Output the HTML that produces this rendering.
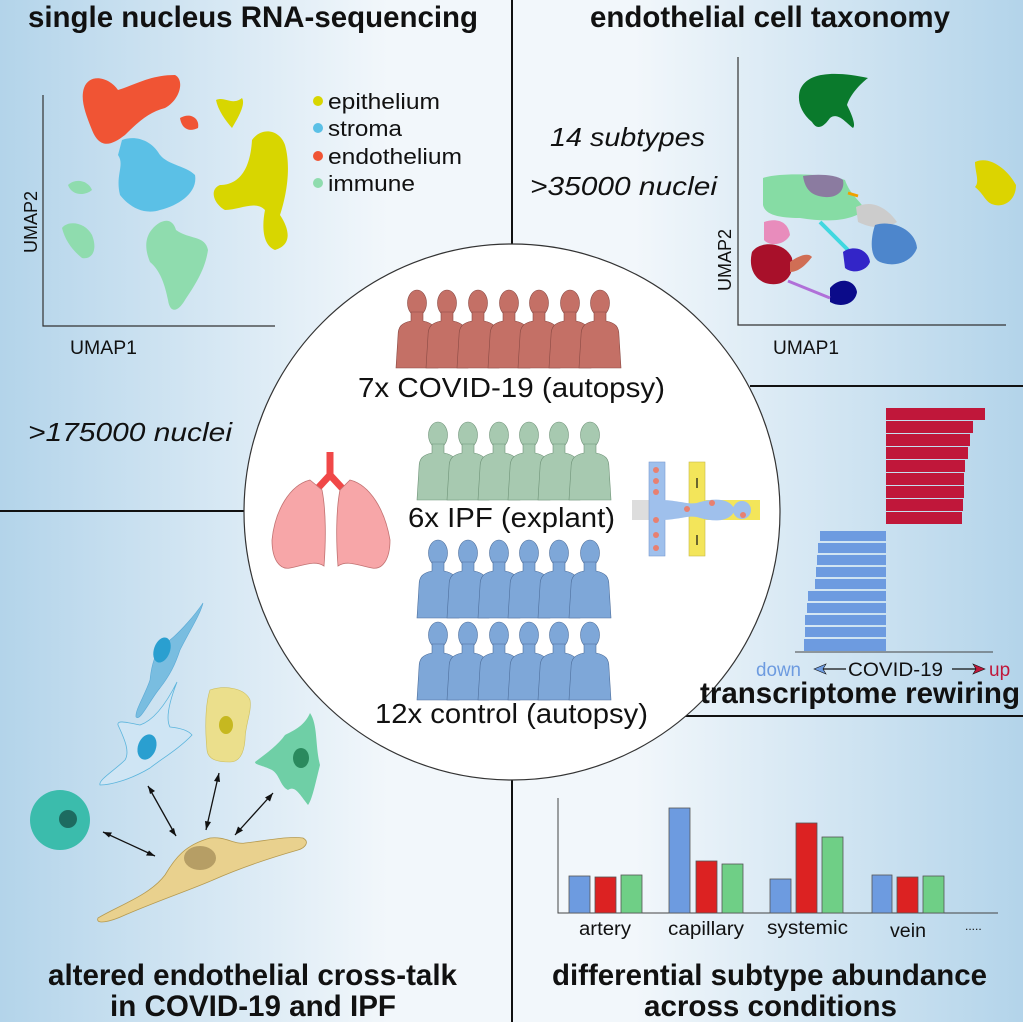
<!DOCTYPE html>
<html><head><meta charset="utf-8"><style>
html,body{margin:0;padding:0}
body{width:1023px;height:1022px;overflow:hidden;font-family:"Liberation Sans",sans-serif}
svg text{font-family:"Liberation Sans",sans-serif}
</style></head><body>
<svg width="1023" height="1022" viewBox="0 0 1023 1022" xmlns="http://www.w3.org/2000/svg">
<defs>
<linearGradient id="bg" x1="0" x2="1" y1="0" y2="0">
<stop offset="0" stop-color="#b3d4ea"/><stop offset="0.38" stop-color="#f2f7fb"/>
<stop offset="0.62" stop-color="#f2f7fb"/><stop offset="1" stop-color="#b3d4ea"/>
</linearGradient>
<g id="p">
<ellipse cx="0" cy="13" rx="9.5" ry="13"/>
<path d="M-6,22 L-6,31 C-16,33 -19,37 -19,46 L-21,78 L21,78 L19,46 C19,37 16,33 6,31 L6,22 Z"/>
</g>
</defs>
<rect width="1023" height="1022" fill="url(#bg)"/>
<g stroke="#111" stroke-width="2">
<line x1="512" y1="0" x2="512" y2="244"/>
<line x1="512" y1="780" x2="512" y2="1022"/>
<line x1="0" y1="511" x2="246" y2="511"/>
<line x1="750" y1="386" x2="1023" y2="386"/>
<line x1="643" y1="716" x2="1023" y2="716"/>
</g>
<circle cx="512" cy="512" r="268" fill="#fff" stroke="#333" stroke-width="1.2"/>

<g font-weight="bold" font-size="30" fill="#111" lengthAdjust="spacingAndGlyphs">
<text x="28" y="27" textLength="450" lengthAdjust="spacingAndGlyphs">single nucleus RNA-sequencing</text>
<text x="590" y="27" textLength="360" lengthAdjust="spacingAndGlyphs">endothelial cell taxonomy</text>
<text x="700" y="703" textLength="320" lengthAdjust="spacingAndGlyphs">transcriptome rewiring</text>
<text x="48" y="985" textLength="409" lengthAdjust="spacingAndGlyphs">altered endothelial cross-talk</text>
<text x="110" y="1016" textLength="286" lengthAdjust="spacingAndGlyphs">in COVID-19 and IPF</text>
<text x="552" y="985" textLength="435" lengthAdjust="spacingAndGlyphs">differential subtype abundance</text>
<text x="644" y="1016" textLength="253" lengthAdjust="spacingAndGlyphs">across conditions</text>
</g>

<g stroke="#333" stroke-width="1.2" fill="none"><polyline points="43,95 43,326 275,326"/></g>
<text x="70" y="354" font-size="19" textLength="67" lengthAdjust="spacingAndGlyphs" fill="#111">UMAP1</text>
<text transform="translate(37,222) rotate(-90)" font-size="18" text-anchor="middle" fill="#111">UMAP2</text>
<path d="M84,88 C90,72 110,78 118,90 C135,85 150,75 175,75 C185,80 180,100 165,108 C150,112 140,120 125,135 C112,145 100,150 92,130 C86,115 80,100 84,88Z" fill="#f05434"/>
<path d="M180,118 C190,112 200,118 198,128 C190,132 182,130 180,118Z" fill="#f05434"/>
<path d="M216,100 C225,96 232,106 242,98 C246,104 238,118 232,128 C225,120 218,110 216,100Z" fill="#d8d600"/>
<path d="M122,140 C135,135 150,140 158,152 C165,165 185,165 195,175 C198,192 180,205 160,210 C145,215 130,208 120,195 C115,175 125,165 118,155 Z" fill="#5bc0e6"/>
<path d="M252,140 C262,126 280,130 285,145 C292,170 285,200 280,215 C290,230 292,245 275,250 C262,245 262,225 265,210 C255,200 240,210 225,210 C215,205 208,190 220,185 C235,185 250,175 252,140Z" fill="#d8d600"/>
<path d="M68,185 C75,178 88,180 92,190 C85,196 72,196 68,185Z" fill="#8fdcae"/>
<path d="M62,228 C68,220 85,222 92,235 C98,250 92,260 82,258 C72,250 65,240 62,228Z" fill="#8fdcae"/>
<path d="M150,232 C158,220 172,215 176,230 C190,240 205,235 208,250 C205,270 195,285 185,300 C178,312 170,314 168,300 C165,285 160,270 150,262 C145,250 145,240 150,232Z" fill="#8fdcae"/>
<g font-size="22" fill="#111">
<circle cx="318" cy="101" r="5" fill="#d8d600"/><text x="328" y="109" textLength="112" lengthAdjust="spacingAndGlyphs">epithelium</text>
<circle cx="318" cy="128" r="5" fill="#5bc0e6"/><text x="328" y="136" textLength="74" lengthAdjust="spacingAndGlyphs">stroma</text>
<circle cx="318" cy="156" r="5" fill="#f05434"/><text x="328" y="164" textLength="134" lengthAdjust="spacingAndGlyphs">endothelium</text>
<circle cx="318" cy="183" r="5" fill="#8fdcae"/><text x="328" y="191" textLength="87" lengthAdjust="spacingAndGlyphs">immune</text>
</g>
<g font-size="26" font-style="italic" fill="#111">
<text x="550" y="146" textLength="155" lengthAdjust="spacingAndGlyphs">14 subtypes</text>
<text x="530" y="195" textLength="187" lengthAdjust="spacingAndGlyphs">&gt;35000 nuclei</text>
<text x="28" y="441" textLength="204" lengthAdjust="spacingAndGlyphs">&gt;175000 nuclei</text>
</g>

<polyline points="738,57 738,325 1006,325" stroke="#333" stroke-width="1.2" fill="none"/>
<text x="773" y="354" font-size="19" textLength="66" lengthAdjust="spacingAndGlyphs" fill="#111">UMAP1</text>
<text transform="translate(731,260) rotate(-90)" font-size="18" text-anchor="middle" fill="#111">UMAP2</text>
<path d="M800,90 C808,70 840,72 868,78 C860,84 850,95 847,105 C852,115 856,125 853,128 C845,122 838,112 830,118 C825,125 818,132 812,122 C800,112 797,100 800,90Z" fill="#0a7a2c"/>
<path d="M975,162 C990,155 1008,170 1016,185 C1016,200 1005,207 995,205 C985,203 985,195 975,187 C980,182 975,172 975,162Z" fill="#dcd400"/>
<path d="M763,178 C780,172 830,174 845,180 C850,195 860,200 865,210 C850,222 825,222 800,218 C780,218 765,215 763,205 Z" fill="#86dca4"/>
<path d="M803,176 C815,174 835,174 843,180 C845,190 838,198 825,197 C812,196 805,190 803,176Z" fill="#8b7ba0"/>
<path d="M856,207 C870,200 885,205 897,222 C885,230 870,228 858,222Z" fill="#cccccc"/>
<path d="M875,225 C890,220 915,228 917,248 C912,262 895,268 880,262 C870,258 870,240 875,225Z" fill="#4d86cc"/>
<path d="M764,222 C775,218 788,220 790,235 C785,245 770,247 764,240Z" fill="#e88cbc"/>
<path d="M752,252 C760,240 785,242 792,258 C795,275 785,286 770,284 C755,282 748,268 752,252Z" fill="#a8102a"/>
<path d="M790,262 C798,256 808,252 812,257 C805,266 798,272 790,272Z" fill="#d06e55"/>
<path d="M820,222 L848,250" stroke="#40d8e0" stroke-width="4"/>
<path d="M843,252 C852,245 868,248 870,262 C866,272 852,274 845,268Z" fill="#3325c8"/>
<path d="M830,288 C840,276 855,280 857,292 C855,305 840,308 830,302Z" fill="#0b0b8a"/>
<path d="M788,281 L830,298" stroke="#b070d8" stroke-width="3"/>
<path d="M848,193 L858,196" stroke="#f0a000" stroke-width="3"/>

<g fill="#c47066" stroke="#8a4a44" stroke-width="0.6">
<use href="#p" x="417" y="290"/><use href="#p" x="447" y="290"/><use href="#p" x="478" y="290"/><use href="#p" x="509" y="290"/><use href="#p" x="539" y="290"/><use href="#p" x="570" y="290"/><use href="#p" x="600" y="290"/>
</g>
<g fill="#a7c9b0" stroke="#6f9378" stroke-width="0.6">
<use href="#p" x="438" y="422"/><use href="#p" x="468" y="422"/><use href="#p" x="499" y="422"/><use href="#p" x="529" y="422"/><use href="#p" x="559" y="422"/><use href="#p" x="590" y="422"/>
</g>
<g fill="#7ea7d8" stroke="#4e6f9c" stroke-width="0.6">
<use href="#p" x="438" y="540"/><use href="#p" x="468" y="540"/><use href="#p" x="499" y="540"/><use href="#p" x="529" y="540"/><use href="#p" x="559" y="540"/><use href="#p" x="590" y="540"/>
<use href="#p" x="438" y="622"/><use href="#p" x="468" y="622"/><use href="#p" x="499" y="622"/><use href="#p" x="529" y="622"/><use href="#p" x="559" y="622"/><use href="#p" x="590" y="622"/>
</g>
<g font-size="28" fill="#111">
<text x="358" y="397" textLength="307" lengthAdjust="spacingAndGlyphs">7x COVID-19 (autopsy)</text>
<text x="408" y="527" textLength="207" lengthAdjust="spacingAndGlyphs">6x IPF (explant)</text>
<text x="375" y="723" textLength="273" lengthAdjust="spacingAndGlyphs">12x control (autopsy)</text>
</g>

<path d="M330,452 L330,475 L318,488" stroke="#f04848" stroke-width="7" fill="none"/>
<path d="M330,475 L342,488" stroke="#f04848" stroke-width="7" fill="none"/>
<path d="M310,480 C290,485 275,510 272,540 C272,560 280,570 290,568 C305,565 315,560 324,566 C326,540 326,510 322,490 Z" fill="#f7a6a8" stroke="#c27272" stroke-width="0.8"/>
<path d="M350,480 C370,485 385,510 390,540 C390,560 382,570 372,568 C357,565 347,560 338,566 C336,540 336,510 340,490 Z" fill="#f7a6a8" stroke="#c27272" stroke-width="0.8"/>

<rect x="632" y="500" width="28" height="20" fill="#ddd"/>
<rect x="649" y="462" width="16" height="94" fill="#9fc0ec" stroke="#7b9bd0" stroke-width="0.6"/>
<rect x="689" y="462" width="16" height="94" fill="#f3e55a" stroke="#c9b94a" stroke-width="0.6"/>
<rect x="705" y="500" width="55" height="20" fill="#f3e55a"/>
<path d="M660,500 C680,500 690,506 700,502 C715,498 730,498 735,510 C730,522 715,522 700,518 C690,514 680,520 660,520Z" fill="#9fc0ec"/>
<circle cx="742" cy="510" r="9" fill="#9fc0ec"/>
<g fill="#e88070"><circle cx="656" cy="470" r="3"/><circle cx="656" cy="481" r="3"/><circle cx="656" cy="492" r="3"/><circle cx="656" cy="520" r="3"/><circle cx="656" cy="535" r="3"/><circle cx="656" cy="548" r="3"/><circle cx="687" cy="509" r="3"/><circle cx="712" cy="503" r="3"/><circle cx="743" cy="515" r="3"/></g>
<path d="M697,478 L697,488 M697,545 L697,535" stroke="#111" stroke-width="1.2"/>

<g fill="#c0173a">
<rect x="886" y="408" width="99" height="12"/><rect x="886" y="421" width="87" height="12"/><rect x="886" y="434" width="84" height="12"/><rect x="886" y="447" width="82" height="12"/><rect x="886" y="460" width="79" height="12"/><rect x="886" y="473" width="78" height="12"/><rect x="886" y="486" width="78" height="12"/><rect x="886" y="499" width="77" height="12"/><rect x="886" y="512" width="76" height="12"/>
</g>
<g fill="#6d9be0">
<rect x="820" y="531" width="66" height="10"/><rect x="818" y="543" width="68" height="10"/><rect x="817" y="555" width="69" height="10"/><rect x="816" y="567" width="70" height="10"/><rect x="815" y="579" width="71" height="10"/><rect x="808" y="591" width="78" height="10"/><rect x="807" y="603" width="79" height="10"/><rect x="805" y="615" width="81" height="10"/><rect x="805" y="627" width="81" height="10"/><rect x="804" y="639" width="82" height="12"/>
</g>
<line x1="795" y1="652" x2="993" y2="652" stroke="#444" stroke-width="1"/>
<text x="756" y="676" font-size="19" fill="#6d9be0" textLength="45" lengthAdjust="spacingAndGlyphs">down</text>
<text x="848" y="676" font-size="19" fill="#111" textLength="95" lengthAdjust="spacingAndGlyphs">COVID-19</text>
<text x="989" y="676" font-size="19" fill="#c0173a">up</text>
<path d="M818,669 L846,669" stroke="#111" stroke-width="1.2"/><path d="M814,669 L826,664 L823,669 L826,674Z" fill="#6d9be0" stroke="#111" stroke-width="0.6"/>
<path d="M952,669 L978,669" stroke="#111" stroke-width="1.2"/><path d="M985,669 L973,664 L976,669 L973,674Z" fill="#c0173a" stroke="#111" stroke-width="0.6"/>

<polyline points="558,798 558,913 998,913" stroke="#444" stroke-width="1" fill="none"/>
<g stroke="#555" stroke-width="0.8">
<rect x="569" y="876" width="21" height="37" fill="#6d9be0"/><rect x="595" y="877" width="21" height="36" fill="#dc2222"/><rect x="621" y="875" width="21" height="38" fill="#6fcf86"/>
<rect x="669" y="808" width="21" height="105" fill="#6d9be0"/><rect x="696" y="861" width="21" height="52" fill="#dc2222"/><rect x="722" y="864" width="21" height="49" fill="#6fcf86"/>
<rect x="770" y="879" width="21" height="34" fill="#6d9be0"/><rect x="796" y="823" width="21" height="90" fill="#dc2222"/><rect x="822" y="837" width="21" height="76" fill="#6fcf86"/>
<rect x="872" y="875" width="20" height="38" fill="#6d9be0"/><rect x="897" y="877" width="21" height="36" fill="#dc2222"/><rect x="923" y="876" width="21" height="37" fill="#6fcf86"/>
</g>
<g font-size="19" fill="#111">
<text x="579" y="935" textLength="52" lengthAdjust="spacingAndGlyphs">artery</text><text x="668" y="935" textLength="76" lengthAdjust="spacingAndGlyphs">capillary</text><text x="767" y="934" textLength="81" lengthAdjust="spacingAndGlyphs">systemic</text><text x="890" y="937" textLength="36" lengthAdjust="spacingAndGlyphs">vein</text><text x="965" y="930" font-size="12">.....</text>
</g>

<circle cx="60" cy="820" r="30" fill="#3bbcac"/><circle cx="68" cy="819" r="9" fill="#1d6b60"/>
<path d="M98,918 C120,905 150,895 165,875 C175,858 185,845 210,838 C225,836 235,845 245,843 C270,840 290,836 303,838 C310,842 305,848 298,850 C270,858 240,868 213,880 C190,890 160,900 125,915 C110,922 95,925 98,918Z" fill="#e9d18e" stroke="#b59a50" stroke-width="0.8"/>
<ellipse cx="200" cy="858" rx="16" ry="12" fill="#b69e65"/>
<path d="M203,603 C195,615 180,632 170,640 C158,645 152,660 150,680 C145,695 135,710 136,717 C140,722 150,700 160,688 C170,675 175,665 180,650 C190,630 200,615 203,603Z" fill="#79bde0" stroke="#5aaad6" stroke-width="0.6"/>
<ellipse cx="162" cy="650" rx="8" ry="13" transform="rotate(20 162 650)" fill="#2a9fd0"/>
<path d="M177,682 C170,700 165,718 170,727 C180,728 188,730 192,735 C180,748 160,760 150,768 C130,780 110,785 100,785 C98,780 115,770 125,760 C130,752 125,740 118,725 C117,720 125,722 140,725 C155,720 168,700 177,682Z" fill="#cfe5f4" stroke="#5ab4dc" stroke-width="0.8"/>
<ellipse cx="147" cy="747" rx="9" ry="13" transform="rotate(20 147 747)" fill="#2a9fd0"/>
<path d="M210,690 C225,685 245,688 250,700 C252,712 245,725 245,740 C244,752 240,762 230,762 C218,762 208,760 207,750 C205,730 205,705 210,690Z" fill="#ebdf8c" stroke="#cdbf60" stroke-width="0.6"/>
<ellipse cx="226" cy="725" rx="7" ry="9" fill="#c6b820"/>
<path d="M310,713 C318,725 315,745 320,765 C315,785 312,800 308,805 C300,795 295,785 288,790 C280,786 280,775 272,770 C262,765 255,765 255,762 C268,752 278,745 285,735 C295,730 305,725 310,713Z" fill="#6fcfa6"/>
<ellipse cx="301" cy="758" rx="8" ry="10" fill="#2a8a5e"/>
<g stroke="#111" stroke-width="1.3" fill="none">
<line x1="103" y1="832" x2="155" y2="856"/><line x1="148" y1="786" x2="176" y2="836"/><line x1="219" y1="773" x2="206" y2="830"/><line x1="273" y1="793" x2="235" y2="835"/>
</g>
<g fill="#111">
<path d="M103,832 l9,0.5 l-3,5Z"/><path d="M155,856 l-9,-0.5 l3,-5Z"/>
<path d="M148,786 l7,5 l-5,3Z"/><path d="M176,836 l-7,-5 l5,-3Z"/>
<path d="M219,773 l1,9 l-6,-1Z"/><path d="M206,830 l-1,-9 l6,1Z"/>
<path d="M273,793 l-3,8.5 l-5,-4Z"/><path d="M235,835 l3,-8.5 l5,4Z"/>
</g>
</svg>
</body></html>
